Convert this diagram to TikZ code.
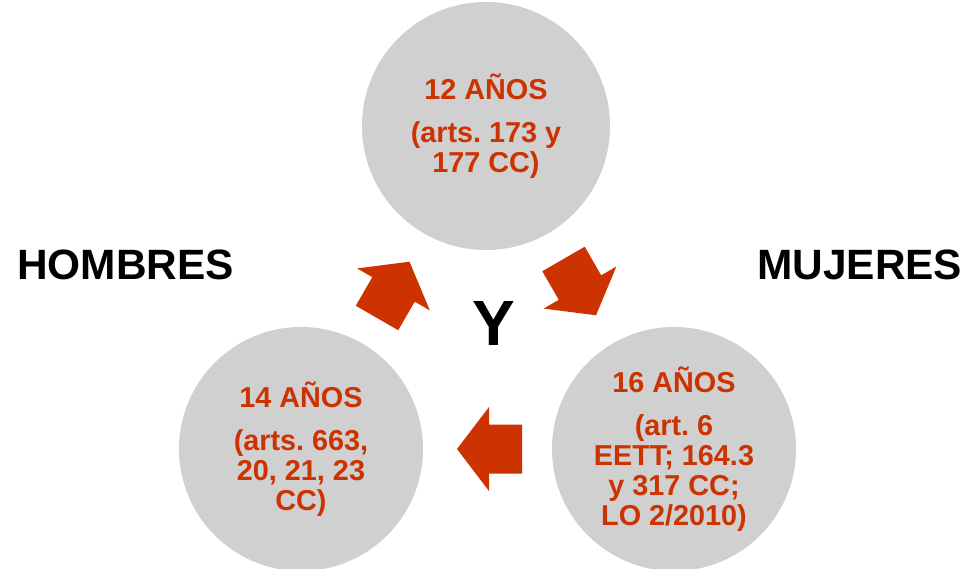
\documentclass[tikz,border=0pt]{standalone}
\usepackage{fontspec}
\setmainfont{Liberation Sans}
\definecolor{circfill}{HTML}{D0D0D0}
\definecolor{rust}{HTML}{CC3300}
\begin{document}
\frenchspacing
\begin{tikzpicture}[x=1pt,y=1pt,
  circ/.style={circle,fill=circfill,minimum size=244pt,inner sep=0pt,align=center,
    text=rust,font=\frenchspacing\bfseries\fontsize{28.8}{30}\selectfont},
  side/.style={font=\bfseries\fontsize{42.4}{46}\selectfont,anchor=base west,inner sep=0pt},
  blockarrow/.pic={\fill[rust] (0,-24.5) -- (33,-24.5) -- (33,-42) -- (65,0) -- (33,42) -- (33,24.5) -- (0,24.5) -- cycle;}]
\useasboundingbox (0,0) rectangle (965,568);
\node[circ,minimum size=248pt] (c12) at (486,442) {12 AÑOS\\[13pt](arts. 173 y\\177 CC)};
\node[circ] (c14) at (301,119) {14 AÑOS\\[13pt](arts. 663,\\20, 21, 23\\CC)};
\node[circ] (c16) at (674,119) {16 AÑOS\\[13pt](art. 6\\EETT; 164.3\\y 317 CC;\\LO 2/2010)};
\node[side] (hom) at (17,288) {HOMBRES};
\node[side] (muj) at (757,288) {MUJERES};
\node[font=\bfseries\fontsize{64}{70}\selectfont,anchor=base,inner sep=0pt] (y) at (494,223) {Y};
\pic[rotate=60] (a1) at (377,250) {blockarrow};
\pic[rotate=-60] (a2) at (563.5,309) {blockarrow};
\pic[rotate=180] (a3) at (522,119) {blockarrow};
\end{tikzpicture}
\end{document}
